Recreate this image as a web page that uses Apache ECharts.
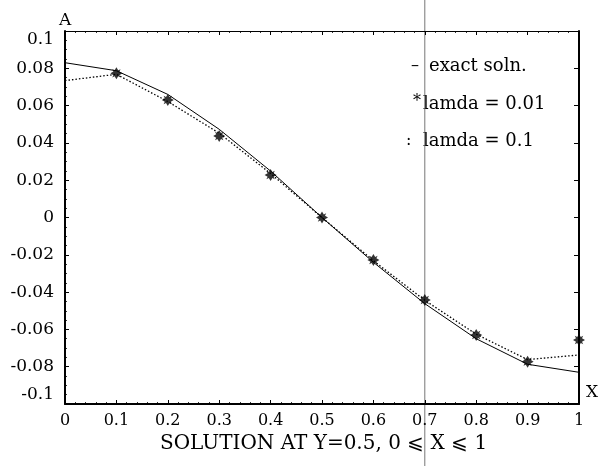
<!DOCTYPE html>
<html><head><meta charset="utf-8">
<script src="https://cdn.jsdelivr.net/npm/echarts@6/dist/echarts.min.js"></script>
<style>html,body{margin:0;padding:0;background:#fff}#c{width:599px;height:466px}</style>
</head><body><div id="c"></div>
<script>
var xValues = [0, 0.1, 0.2, 0.3, 0.4, 0.5, 0.6, 0.7, 0.8, 0.9, 1];
var exactSoln = [0.083, 0.0787, 0.066, 0.0473, 0.0249, 0, -0.0240, -0.0462, -0.0650, -0.0787, -0.0830];
var lamda01 = [0.0734, 0.0768, 0.0622, 0.0452, 0.0236, 0, -0.0232, -0.0444, -0.0626, -0.0762, -0.0737];
var starX = [0.1, 0.2, 0.3, 0.4, 0.5, 0.6, 0.7, 0.8, 0.9, 1];
var lamda001 = [0.0773, 0.063, 0.0437, 0.0228, 0, -0.0228, -0.0442, -0.063, -0.0773, -0.0657];
var yTicks = [0.1, 0.08, 0.06, 0.04, 0.02, 0, -0.02, -0.04, -0.06, -0.08, -0.1];
var xTicks = [0, 0.1, 0.2, 0.3, 0.4, 0.5, 0.6, 0.7, 0.8, 0.9, 1];
var markerX = 0.7;

function pairs(xs, ys){ return xs.map(function(x,i){ return [x, ys[i]]; }); }
var FONT = '"DejaVu Serif","Liberation Serif",serif';
var starPath = 'path://M0,-10 L3,-5 L7,-7 L5,-3 L10,0 L5,3 L7,7 L3,5 L0,10 L-3,5 L-7,7 L-5,3 L-10,0 L-5,-3 L-7,-7 L-3,-5 Z';

function fmtY(v){
  var r = Math.round(v*100)/100;
  var s = (r === 0) ? '0' : String(r);
  if (r === 0.1) return '{top|' + s + '}';
  if (r === -0.1) return '{bot|' + s + '}';
  return s;
}
function fmtX(v){ var r = Math.round(v*10)/10; return String(r); }

var chart = echarts.init(document.getElementById('c'), null, {renderer:'canvas'});
var option = {
  animation: false,
  backgroundColor: '#fff',
  grid: {left: 65, right: 20, top: 31, bottom: 62, containLabel: false},
  xAxis: [{
    type: 'value', min: 0, max: 1, interval: 0.1, position: 'bottom',
    axisLine: {onZero: false, lineStyle: {color: '#000', width: 2}},
    axisTick: {inside: true, length: 4, lineStyle: {color: '#000', width: 1}},
    minorTick: {show: true, splitNumber: 5, length: 2, lineStyle: {color: '#000', width: 0.8}},
    splitLine: {show: false},
    axisLabel: {color: '#000', fontFamily: FONT, fontSize: 16, margin: 9, formatter: fmtX}
  },{
    type: 'value', min: 0, max: 1, interval: 0.1, position: 'top',
    axisLine: {onZero: false, lineStyle: {color: '#000', width: 1.2}},
    axisTick: {inside: true, length: 4, lineStyle: {color: '#000', width: 1}},
    minorTick: {show: true, splitNumber: 5, length: 2, lineStyle: {color: '#000', width: 0.8}},
    splitLine: {show: false}, axisLabel: {show: false}
  }],
  yAxis: [{
    type: 'value', min: -0.1, max: 0.1, interval: 0.02, position: 'left',
    axisLine: {onZero: false, lineStyle: {color: '#000', width: 2}},
    axisTick: {inside: true, length: 4, lineStyle: {color: '#000', width: 1}},
    minorTick: {show: true, splitNumber: 4, length: 2, lineStyle: {color: '#000', width: 0.8}},
    splitLine: {show: false},
    axisLabel: {color: '#000', fontFamily: FONT, fontSize: 17, margin: 11, formatter: fmtY,
      rich: {top: {fontFamily: FONT, fontSize: 17, color: '#000', padding: [18,0,0,0]},
             bot: {fontFamily: FONT, fontSize: 17, color: '#000', padding: [0,0,18,0]}}}
  },{
    type: 'value', min: -0.1, max: 0.1, interval: 0.02, position: 'right',
    axisLine: {onZero: false, lineStyle: {color: '#000', width: 2}},
    axisTick: {inside: true, length: 5, lineStyle: {color: '#000', width: 1}},
    splitLine: {show: false}, axisLabel: {show: false}
  }],
  series: [{
    name: 'exact soln.', type: 'line', data: pairs(xValues, exactSoln),
    symbol: 'none', lineStyle: {color: '#000', width: 1}
  },{
    name: 'lamda = 0.1', type: 'line', data: pairs(xValues, lamda01),
    symbol: 'none', lineStyle: {color: '#000', width: 1.3, type: [1.5, 2]}
  },{
    name: 'lamda = 0.01', type: 'scatter', data: pairs(starX, lamda001),
    symbol: starPath, symbolSize: 12, itemStyle: {color: '#000'}
  }],
  graphic: [
    {type: 'text', left: 59, top: 12, style: {text: 'A', font: '17px ' + FONT, fill: '#000'}},
    {type: 'text', left: 586, top: 384, style: {text: 'X', font: '17px ' + FONT, fill: '#000'}},
    {type: 'text', left: 160, top: 434, style: {text: 'SOLUTION AT Y=0.5, 0 \u2A7D X \u2A7D 1', font: '20px ' + FONT, fill: '#000'}},
    {type: 'text', left: 411, top: 58, style: {text: '\u2013', font: '16px ' + FONT, fill: '#000'}},
    {type: 'text', left: 429, top: 57, style: {text: 'exact soln.', font: '18px ' + FONT, fill: '#000'}},
    {type: 'text', left: 413, top: 94, style: {text: '*', font: '16px ' + FONT, fill: '#000'}},
    {type: 'text', left: 423, top: 95, style: {text: 'lamda = 0.01', font: '18px ' + FONT, fill: '#000'}},
    {type: 'text', left: 406, top: 133, style: {text: ':', font: '16px ' + FONT, fill: '#000'}},
    {type: 'text', left: 423, top: 132, style: {text: 'lamda = 0.1', font: '18px ' + FONT, fill: '#000'}}
  ]
};
chart.setOption(option);
var px = chart.convertToPixel({xAxisIndex: 0}, markerX);
chart.setOption({graphic: option.graphic.concat([{type: 'line', shape: {x1: px, y1: 0, x2: px, y2: 466}, style: {stroke: '#777', lineWidth: 1}, z: 0}])});
</script>
</body></html>
